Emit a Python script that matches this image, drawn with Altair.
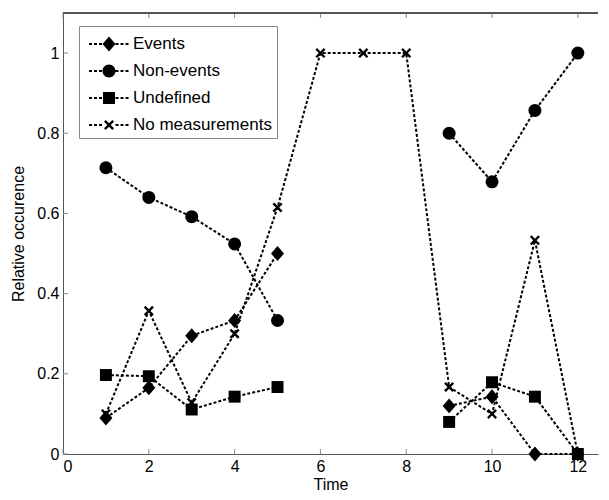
import altair as alt
import pandas as pd

series = ["Events", "Non-events", "Undefined", "No measurements"]
time = [1, 2, 3, 4, 5, 6, 7, 8, 9, 10, 11, 12]
events = [0.09, 0.165, 0.295, 0.333, 0.5, None, None, None, 0.12, 0.143, 0.0, 0.0]
nonevents = [0.714, 0.64, 0.592, 0.524, 0.333, None, None, None, 0.8, 0.679, 0.857, 1.0]
undefined = [0.197, 0.194, 0.111, 0.143, 0.167, None, None, None, 0.08, 0.179, 0.143, 0.0]
nomeas = [0.1, 0.357, 0.128, 0.3, 0.615, 1.0, 1.0, 1.0, 0.167, 0.1, 0.533, 0.0]
x_ticks = [0, 2, 4, 6, 8, 10, 12]
y_ticks = [0, 0.2, 0.4, 0.6, 0.8, 1.0]

W, H = 535, 441

rows = []
for name, vals in zip(series, [events, nonevents, undefined, nomeas]):
    seg = 0
    for t, v in zip(time, vals):
        if v is None:
            seg += 1
            continue
        rows.append({"time": t, "value": v, "series": name, "seg": f"{name}-{seg}"})
df = pd.DataFrame(rows)
xt = pd.DataFrame({"time": x_ticks})
yt = pd.DataFrame({"value": y_ticks})

FONT = "Liberation Sans"


def poly(pts, s=1.0, cx=0.0):
    return "M" + "L".join(f"{cx + x * s:.3f},{y * s:.3f}" for x, y in pts) + "Z"


def circ(r, cx=0.0):
    return (f"M{cx - r:.3f},0A{r:.3f},{r:.3f} 0 1,0 {cx + r:.3f},0"
            f"A{r:.3f},{r:.3f} 0 1,0 {cx - r:.3f},0Z")


a, t = 0.77, 0.26
x_pts = [(-a, -a + t), (-a + t, -a), (0, -t), (a - t, -a), (a, -a + t), (t, 0),
         (a, a - t), (a - t, a), (0, t), (-a + t, a), (-a, a - t), (-t, 0)]
dia_pts = [(0, -1.15), (1.0, 0), (0, 1.15), (-1.0, 0)]
sq_pts = [(-0.92, -0.92), (0.92, -0.92), (0.92, 0.92), (-0.92, 0.92)]

marker_paths = [poly(dia_pts), "circle", poly(sq_pts), poly(x_pts)]

# legend symbol: dashed line + marker, unit = 13px
U = 13.0
CX = 1.0


def dashes():
    parts = []
    h = 1.0 / U
    for start, end in [(5.0, 18.5), (31.5, 45.0)]:
        p = start
        while p < end:
            q = min(p + 3.0, end)
            x0, x1 = (p - 13) / U, (q - 13) / U
            parts.append(f"M{x0:.3f},{-h:.3f}L{x1:.3f},{-h:.3f}L{x1:.3f},{h:.3f}L{x0:.3f},{h:.3f}Z")
            p += 5.0
    return "".join(parts)


k = 6.5 / U
CXL = (25.0 - 13) / U
leg_paths = [
    dashes() + poly(dia_pts, k, CXL),
    dashes() + circ(k, CXL),
    dashes() + poly(sq_pts, k, CXL),
    dashes() + poly(x_pts, k, CXL),
]

xscale = alt.Scale(domain=[0, 12.47], nice=False, zero=False)
yscale = alt.Scale(domain=[0, 1.1], nice=False)

x_axis = alt.Axis(values=x_ticks, title="Time", grid=False, ticks=False, tickSize=0,
                  labelPadding=4, domainColor="#555555", labelColor="black",
                  labelFontSize=16, titleFontSize=16, titleFontWeight="normal",
                  titleColor="black", titlePadding=2, labelFont=FONT, titleFont=FONT)
y_axis = alt.Axis(values=y_ticks, format="~g", title="Relative occurence", grid=False,
                  ticks=False, tickSize=0, labelPadding=4, domainColor="#555555",
                  labelColor="black", labelFontSize=16, titleFontSize=16,
                  titleFontWeight="normal", titleColor="black", titlePadding=10,
                  labelFont=FONT, titleFont=FONT)

X = alt.X("time:Q", scale=xscale, axis=x_axis)
Y = alt.Y("value:Q", scale=yscale, axis=y_axis)

base = alt.Chart(df)
lines = base.mark_line(color="black", strokeWidth=2, strokeDash=[3, 2]).encode(
    x=X, y=Y, detail="seg:N", order="time:Q",
)
points = base.mark_point(filled=True, color="black", opacity=1, size=169).encode(
    x=X, y=Y,
    shape=alt.Shape("series:N", scale=alt.Scale(domain=series, range=marker_paths), legend=None),
)
legend_layer = base.mark_point(filled=True, color="black", opacity=1, size=0).encode(
    x=X, y=Y,
    shape=alt.Shape(
        "series:N",
        scale=alt.Scale(domain=series, range=leg_paths),
        legend=alt.Legend(
            title=None, orient="none", legendX=16, legendY=13, fillColor="white",
            strokeColor="#888888", padding=5, labelFontSize=17, labelFont=FONT,
            labelColor="black", symbolSize=676, rowPadding=6, labelOffset=23,
            symbolFillColor="black", symbolStrokeWidth=0, symbolOpacity=1,
        ),
    ),
)

tick_style = dict(color="#888888", strokeWidth=1)
bottom_ticks = alt.Chart(xt).mark_rule(**tick_style).encode(
    x=alt.X("time:Q", scale=xscale, axis=x_axis), y=alt.value(H), y2=alt.value(H - 5))
top_ticks = alt.Chart(xt).mark_rule(**tick_style).encode(
    x=alt.X("time:Q", scale=xscale, axis=x_axis), y=alt.value(0), y2=alt.value(5))
left_ticks = alt.Chart(yt).mark_rule(**tick_style).encode(
    y=alt.Y("value:Q", scale=yscale, axis=y_axis), x=alt.value(0), x2=alt.value(5))
top_border = alt.Chart(xt).mark_rule(color="#555555", strokeWidth=1).encode(
    x=alt.value(0), x2=alt.value(W), y=alt.value(0))

chart = alt.layer(
    bottom_ticks, top_ticks, left_ticks, top_border, lines, points, legend_layer
).resolve_scale(shape="independent").properties(
    width=W, height=H, padding={"left": 2, "top": 4, "right": 0, "bottom": 0},
).configure_view(stroke=None)

chart.save("out.html", embed_options={"renderer": "svg", "actions": False})
